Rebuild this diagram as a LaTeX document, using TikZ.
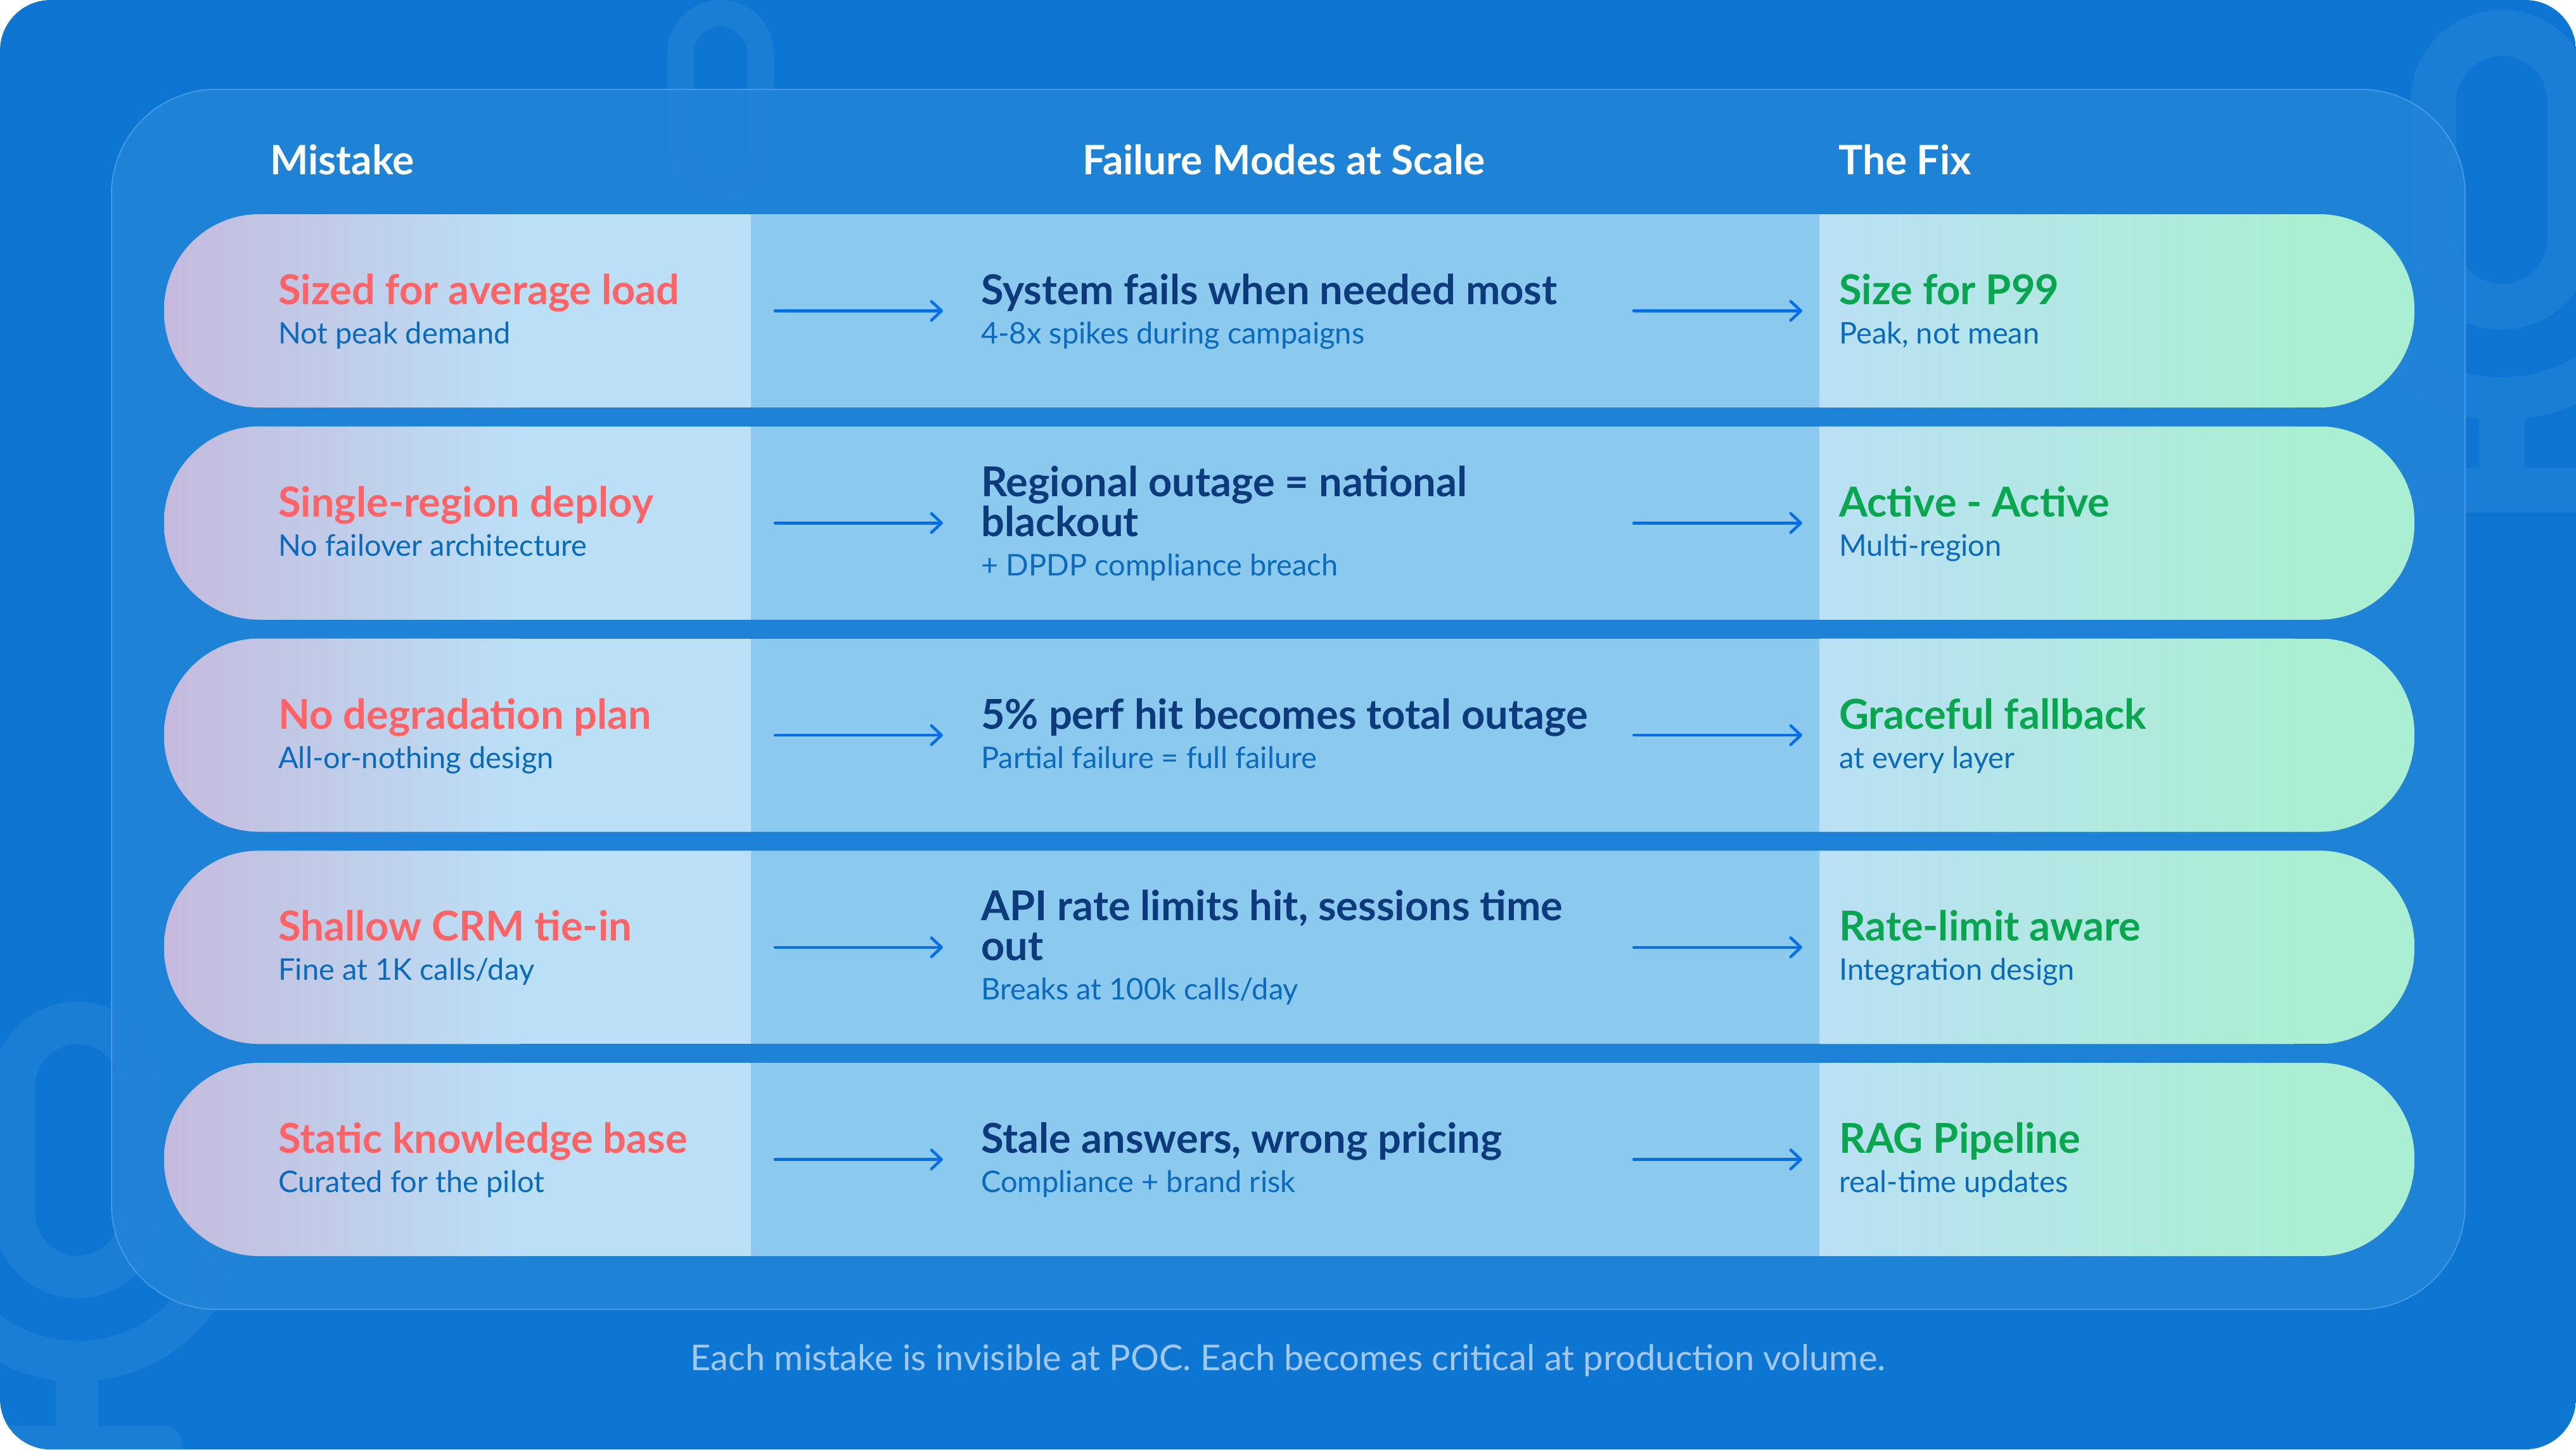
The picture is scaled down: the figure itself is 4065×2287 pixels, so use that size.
\documentclass[tikz,border=0pt]{standalone}
\usepackage{fontspec}
\setmainfont{Lato}
\usetikzlibrary{arrows.meta}
\definecolor{bgblue}{RGB}{13,118,210}
\definecolor{micblue}{RGB}{27,126,213}
\definecolor{panelc}{RGB}{33,133,216}
\definecolor{panelline}{RGB}{95,172,236}
\definecolor{lav}{RGB}{197,186,221}
\definecolor{lblue}{RGB}{187,224,245}
\definecolor{midc}{RGB}{139,202,238}
\definecolor{mint}{RGB}{171,239,211}
\definecolor{redt}{RGB}{255,99,102}
\definecolor{subt}{RGB}{10,106,190}
\definecolor{navy}{RGB}{12,58,122}
\definecolor{greent}{RGB}{9,166,80}
\definecolor{arrc}{RGB}{8,110,232}
\definecolor{foot}{RGB}{163,200,238}
\tikzset{
  ttl/.style={anchor=base west, inner sep=0pt, font=\fontsize{65}{78}\selectfont\bfseries},
  subtxt/.style={anchor=base west, inner sep=0pt, font=\fontsize{47}{56}\selectfont, text=subt},
  hdr/.style={anchor=base west, inner sep=0pt, font=\fontsize{64}{76}\selectfont\bfseries, text=white},
  arr/.style={draw=arrc, line width=4.5pt, line cap=round, -{Straight Barb[length=16pt,width=30pt,round]}},
  micline/.style={draw=micblue, line width=#1},
  micfill/.style={fill=micblue},
}
\newcommand\rowbg[1]{%
  \begin{scope}
    \clip[rounded corners=150pt] (259,#1) rectangle (3810,#1+305);
    \shade[left color=lav, right color=lblue] (259,#1) rectangle (820,#1+305);
    \fill[lblue] (819,#1) rectangle (1186,#1+305);
    \fill[midc] (1185,#1) rectangle (2872,#1+305);
    \shade[left color=lblue, right color=mint] (2871,#1) rectangle (3620,#1+305);
    \fill[mint] (3619,#1) rectangle (3810,#1+305);
  \end{scope}}
\newcommand\rowarrows[2]{%
  \coordinate (a#1s) at (1223,#2);
  \coordinate (a#1e) at (1488,#2);
  \coordinate (b#1s) at (2578,#2);
  \coordinate (b#1e) at (2844,#2);
  \draw[arr] (a#1s) -- (a#1e);
  \draw[arr] (b#1s) -- (b#1e);}
\begin{document}
\begin{tikzpicture}[x=1pt,y=-1pt]
\useasboundingbox (0,0) rectangle (4065,2287);
% background and decorative microphones
\begin{scope}
  \clip[rounded corners=80pt] (0,0) rectangle (4065,2287);
  \fill[bgblue] (0,0) rectangle (4065,2287);
  % right microphone
  \draw[micline=72pt, rounded corners=108pt] (3840,52) rectangle (4056,484);
  \begin{scope}
    \clip (3548,372) rectangle (4348,800);
    \draw[micline=67pt] (3948,372) circle[radius=257];
  \end{scope}
  \fill[micfill] (3912,650) rectangle (3984,745);
  \fill[micfill, rounded corners=30pt] (3778,738) rectangle (4118,809);
  % bottom-left microphone
  \draw[micline=67pt, rounded corners=100pt] (22,1614) rectangle (222,2015);
  \begin{scope}
    \clip (-300,1915) rectangle (500,2300);
    \draw[micline=64pt] (122,1915) circle[radius=233];
  \end{scope}
  \fill[micfill] (88,2170) rectangle (155,2255);
  \fill[micfill, rounded corners=30pt] (-44,2250) rectangle (288,2317);
  % top microphone
  \draw[micline=42pt, rounded corners=63pt] (1074,21) rectangle (1200,300);
\end{scope}
% panel
\draw[fill=panelc, fill opacity=0.85, draw=panelline, draw opacity=0.6, line width=2pt, rounded corners=165pt] (176,141) rectangle (3890,2066);
% headers
\node[hdr] (h1) at (426,275) {Mistake};
\node[hdr] (h2) at (1708,275) {Failure Modes at Scale};
\node[hdr] (h3) at (2901,275) {The Fix};
% rows
\foreach \t in {338,672.75,1007.5,1342.25,1677} {\rowbg{\t}}
% row 1
\node[ttl, text=redt] (m1t) at (439,480.5) {Sized for average load};
\node[subtxt] (m1s) at (439,542.5) {Not peak demand};
\node[ttl, text=navy] (f1t) at (1548,480.5) {System fails when needed most};
\node[subtxt] (f1s) at (1548,542.5) {4-8x spikes during campaigns};
\node[ttl, text=greent] (x1t) at (2902,480.5) {Size for P99};
\node[subtxt] (x1s) at (2902,542.5) {Peak, not mean};
\rowarrows{1}{490.5}
% row 2
\node[ttl, text=redt] (m2t) at (439,815.25) {Single-region deploy};
\node[subtxt] (m2s) at (439,877.25) {No failover architecture};
\node[ttl, text=navy] (f2t) at (1548,783.25) {Regional outage = national};
\node[ttl, text=navy] (f2u) at (1548,846.25) {blackout};
\node[subtxt] (f2s) at (1548,908.25) {+ DPDP compliance breach};
\node[ttl, text=greent] (x2t) at (2902,815.25) {Active - Active};
\node[subtxt] (x2s) at (2902,877.25) {Multi-region};
\rowarrows{2}{825.25}
% row 3
\node[ttl, text=redt] (m3t) at (439,1150) {No degradation plan};
\node[subtxt] (m3s) at (439,1212) {All-or-nothing design};
\node[ttl, text=navy] (f3t) at (1548,1150) {5\% perf hit becomes total outage};
\node[subtxt] (f3s) at (1548,1212) {Partial failure = full failure};
\node[ttl, text=greent] (x3t) at (2902,1150) {Graceful fallback};
\node[subtxt] (x3s) at (2902,1212) {at every layer};
\rowarrows{3}{1160}
% row 4
\node[ttl, text=redt] (m4t) at (439,1484.75) {Shallow CRM tie-in};
\node[subtxt] (m4s) at (439,1546.75) {Fine at 1K calls/day};
\node[ttl, text=navy] (f4t) at (1548,1452.75) {API rate limits hit, sessions time};
\node[ttl, text=navy] (f4u) at (1548,1515.75) {out};
\node[subtxt] (f4s) at (1548,1577.75) {Breaks at 100k calls/day};
\node[ttl, text=greent] (x4t) at (2902,1484.75) {Rate-limit aware};
\node[subtxt] (x4s) at (2902,1546.75) {Integration design};
\rowarrows{4}{1494.75}
% row 5
\node[ttl, text=redt] (m5t) at (439,1819.5) {Static knowledge base};
\node[subtxt] (m5s) at (439,1881.5) {Curated for the pilot};
\node[ttl, text=navy] (f5t) at (1548,1819.5) {Stale answers, wrong pricing};
\node[subtxt] (f5s) at (1548,1881.5) {Compliance + brand risk};
\node[ttl, text=greent] (x5t) at (2902,1819.5) {RAG Pipeline};
\node[subtxt] (x5s) at (2902,1881.5) {real-time updates};
\rowarrows{5}{1829.5}
% footer
\node[anchor=base, inner sep=0pt, font=\fontsize{56}{66}\selectfont, text=foot] (foot) at (2032.5,2162) {Each mistake is invisible at POC. Each becomes critical at production volume.};
\end{tikzpicture}
\end{document}
